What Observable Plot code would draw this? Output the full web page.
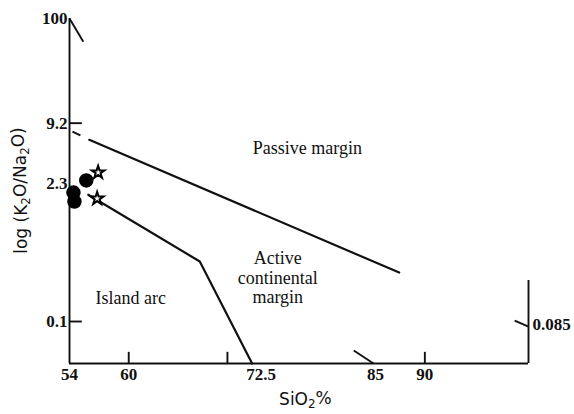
<!DOCTYPE html>
<html><head><meta charset="utf-8">
<script src="https://cdn.jsdelivr.net/npm/d3@7"></script>
<script src="https://cdn.jsdelivr.net/npm/@observablehq/plot@0.6"></script>
<style>
html,body{margin:0;padding:0;background:#fff;}
</style></head><body><div id="chart"></div>
<script>
// ---- data (SiO2 %, K2O/Na2O ratio) ----
const xDomain = [54, 100.5];
const yDomain = [0.0384, 100];

const xTickValues = [54, 60, 85, 90];
const xTickLabels = ["54", "60", "85", "90"];
const xTickShifted = [72.5];
const xTickShiftedLabels = ["72.5"];
const xTickMarks = [60, 70, 90];
const yTickValues = [100, 9.2, 2.3, 0.1];
const yTickLabels = ["100", "9.2", "2.3", "0.1"];
const yTickMarks = [9.2, 0.1];
const rightTickValue = [0.085];
const rightTickLabel = ["0.085"];

const circleSiO2 = [55.7, 54.4, 54.5];
const circleRatio = [2.49, 1.89, 1.54];
const starSiO2 = [56.9, 56.8];
const starRatio = [2.99, 1.65];

const pmBoundarySiO2 = [56.0, 87.4];
const pmBoundaryRatio = [6.3, 0.305];
const arcBoundarySiO2 = [55.9, 67.2, 72.5];
const arcBoundaryRatio = [1.8, 0.393, 0.0384];

// short hand-drawn strokes of the original sketch
const strokeX1 = [54.0, 54.3, 82.8, 99.1];
const strokeY1 = [100, 7.6, 0.0516, 0.102];
const strokeX2 = [55.4, 55.1, 84.8, 100.5];
const strokeY2 = [59, 6.95, 0.0384, 0.089];

const regionNames = ["Passive margin", "Active\ncontinental\nmargin", "Island arc"];
const regionSiO2 = [78.1, 75.1, 60.2];
const regionRatio = [5.28, 0.273, 0.173];

const rightAxisTop = 0.255;
const xTickTop = 0.0495;
const yTickRight = 55.3;

// ---- build tables ----
const circles = circleSiO2.map((x, i) => ({x, y: circleRatio[i]}));
const stars = starSiO2.map((x, i) => ({x, y: starRatio[i]}));
const pmLine = pmBoundarySiO2.map((x, i) => ({x, y: pmBoundaryRatio[i]}));
const arcLine = arcBoundarySiO2.map((x, i) => ({x, y: arcBoundaryRatio[i]}));
const strokes = strokeX1.map((x1, i) => ({x1, y1: strokeY1[i], x2: strokeX2[i], y2: strokeY2[i]}));
const regions = regionNames.map((t, i) => ({t, x: regionSiO2[i], y: regionRatio[i]}));

const serif = "'Liberation Serif', 'DejaVu Serif', serif";
const sans = "'DejaVu Sans', 'Liberation Sans', sans-serif";
const SW = 1.9;

const plot = Plot.plot({
  width: 574,
  height: 414,
  marginLeft: 69,
  marginRight: 46,
  marginTop: 18,
  marginBottom: 51,
  style: {background: "#fff", color: "#111", fontFamily: serif},
  x: {type: "linear", domain: xDomain, axis: null},
  y: {type: "log", domain: yDomain, axis: null},
  marks: [
    // axes
    Plot.ruleX([xDomain[0]], {y1: yDomain[0], y2: yDomain[1], strokeWidth: SW, stroke: "#111"}),
    Plot.ruleY([yDomain[0]], {x1: xDomain[0], x2: xDomain[1], strokeWidth: SW, stroke: "#111"}),
    Plot.ruleX([xDomain[1]], {y1: yDomain[0], y2: rightAxisTop, strokeWidth: SW, stroke: "#111"}),
    Plot.ruleX(xTickMarks, {y1: yDomain[0], y2: xTickTop, strokeWidth: SW, stroke: "#111"}),
    Plot.ruleY(yTickMarks, {x1: xDomain[0], x2: yTickRight, strokeWidth: SW, stroke: "#111"}),
    Plot.link(strokes, {x1: "x1", y1: "y1", x2: "x2", y2: "y2", strokeWidth: SW, stroke: "#111"}),
    // boundaries
    Plot.line(pmLine, {x: "x", y: "y", strokeWidth: 2.2, stroke: "#111"}),
    Plot.line(arcLine, {x: "x", y: "y", strokeWidth: 2.2, stroke: "#111"}),
    // tick labels
    Plot.text(xTickValues, {x: d => d, y: yDomain[0], text: (d, i) => xTickLabels[i], dy: 4, lineAnchor: "top", fontSize: 17, fontWeight: "bold", fill: "#111"}),
    Plot.text(xTickShifted, {x: d => d, y: yDomain[0], text: (d, i) => xTickShiftedLabels[i], dy: 4, dx: 9, lineAnchor: "top", fontSize: 17, fontWeight: "bold", fill: "#111"}),
    Plot.text(yTickValues, {x: xDomain[0], y: d => d, text: (d, i) => yTickLabels[i], textAnchor: "end", dx: -2, fontSize: 17, fontWeight: "bold", fill: "#111"}),
    Plot.text(rightTickValue, {x: xDomain[1], y: d => d, text: (d, i) => rightTickLabel[i], textAnchor: "start", dx: 4, dy: -4, fontSize: 17, fontWeight: "bold", fill: "#111"}),
    // region labels
    Plot.text(regions, {x: "x", y: "y", text: "t", fontSize: 18, lineHeight: 1.08, fill: "#111"}),
    // samples
    Plot.dot(circles, {x: "x", y: "y", r: 6.5, fill: "#000", stroke: "#000"}),
    Plot.dot(stars, {x: "x", y: "y", symbol: "star", r: 4, fill: "#fff", stroke: "#000", strokeWidth: 2}),
    // axis titles
    Plot.text(["Y_TITLE"], {frameAnchor: "left", dx: -48, y: () => 1.98, rotate: -90, textAnchor: "middle", text: d => d, fontSize: 17, fontFamily: sans, fill: "#111"}),
    Plot.text(["X_TITLE"], {x: () => 77.9, y: yDomain[0], dy: 36, text: d => d, fontSize: 17, fontFamily: sans, fill: "#111"})
  ]
});

// rich text (subscripts) for axis titles
function richText(node, parts) {
  const t = d3.select(node);
  t.text(null);
  parts.forEach(([s, sub], i) => {
    const prevSub = i > 0 && parts[i - 1][1];
    const ts = t.append("tspan").text(s);
    if (sub) ts.attr("font-size", "70%").attr("dy", "0.25em");
    else if (prevSub) ts.attr("dy", "-0.25em");
  });
}
d3.select(plot).selectAll("text").each(function() {
  const s = this.textContent;
  if (s === "Y_TITLE") richText(this, [["log (K"], ["2", true], ["O/Na"], ["2", true], ["O)"]]);
  if (s === "X_TITLE") richText(this, [["SiO"], ["2", true], ["%"]]);
});

document.getElementById("chart").appendChild(plot);
</script>
</body></html>
